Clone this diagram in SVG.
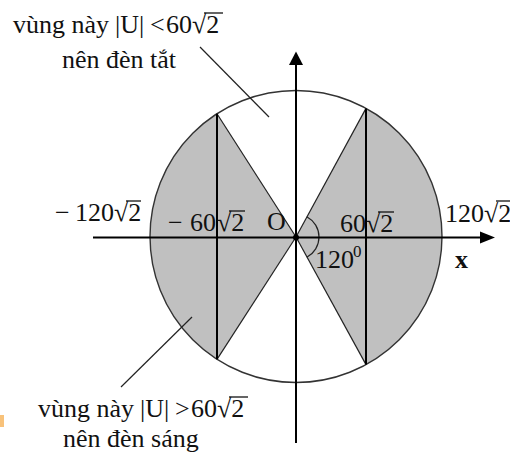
<svg xmlns="http://www.w3.org/2000/svg" width="510" height="454" viewBox="0 0 510 454">
<style>
text{font-family:"Liberation Serif","Times New Roman",serif;font-size:26px;fill:#111}
.ax{stroke:#000;stroke-width:2;fill:none}
.thin{stroke:#222;stroke-width:1.2;fill:none}
.bar{stroke:#111;stroke-width:1.3}
.shade{fill:#c0c0c0;stroke:none}
</style>
<rect width="510" height="454" fill="#fff"/>
<g id="regions">
<path class="shade" d="M296,237 L217,113.7 A146,146 0 0 0 217,359.3 Z"/>
<path class="shade" d="M296,237 L366,108.4 A146,146 0 0 1 366,364.6 Z"/>
</g>
<g id="circle">
<circle cx="296" cy="236.5" r="146" fill="none" stroke="#333" stroke-width="1.4"/>
</g>
<g id="lines">
<line class="thin" x1="296" y1="237" x2="217" y2="113.7"/>
<line class="thin" x1="296" y1="237" x2="217" y2="359.3"/>
<line class="thin" x1="296" y1="237" x2="366" y2="108.4"/>
<line class="thin" x1="296" y1="237" x2="366" y2="364.6"/>
<line class="ax" x1="217" y1="113.7" x2="217" y2="359.3"/>
<line class="ax" x1="366" y1="108.4" x2="366" y2="364.6"/>
<path class="thin" d="M306.8,216.7 A23,23 0 0 1 306.8,257.3"/>
</g>
<g id="axes">
<line class="ax" x1="93" y1="237.5" x2="482" y2="237.5"/>
<polygon points="495,237.5 480,231.5 480,243.5" fill="#000"/>
<line class="ax" x1="296" y1="443" x2="296" y2="63"/>
<polygon points="296,51.5 289,65 303,65" fill="#000"/>
<circle cx="296" cy="237.5" r="3" fill="#000"/>
</g>
<g id="leaders">
<line class="thin" x1="200" y1="47" x2="269" y2="117"/>
<line class="thin" x1="192" y1="317" x2="121" y2="387"/>
</g>
<g id="label-top">
<text y="33"><tspan x="13">vùng này</tspan><tspan x="115">|U|</tspan><tspan x="150">&lt;</tspan><tspan x="166">60</tspan><tspan x="192">√2</tspan></text>
<line class="bar" x1="204" y1="13" x2="223" y2="13"/>
<text x="62" y="68">nên đèn tắt</text>
</g>
<g id="label-bottom">
<text y="417"><tspan x="38">vùng này</tspan><tspan x="140">|U|</tspan><tspan x="175">&gt;</tspan><tspan x="191">60</tspan><tspan x="217">√2</tspan></text>
<line class="bar" x1="229" y1="397" x2="248" y2="397"/>
<text x="63" y="447">nên đèn sáng</text>
</g>
<g id="label-axis">
<text y="221"><tspan x="55">−</tspan><tspan x="75">120</tspan><tspan x="114">√2</tspan></text>
<line class="bar" x1="126" y1="201" x2="141" y2="201"/>
<text y="231"><tspan x="168">−</tspan><tspan x="190">60</tspan><tspan x="217">√2</tspan></text>
<line class="bar" x1="229" y1="211" x2="245" y2="211"/>
<text x="267" y="230">O</text>
<text y="232"><tspan x="340">60</tspan><tspan x="366">√2</tspan></text>
<line class="bar" x1="378" y1="212" x2="394" y2="212"/>
<text y="222"><tspan x="445">120</tspan><tspan x="484">√2</tspan></text>
<line class="bar" x1="496" y1="201" x2="510" y2="201"/>
<text y="268"><tspan x="315">120</tspan><tspan x="353" y="257" font-size="17">0</tspan></text>
<text x="455" y="268" font-weight="bold">x</text>
</g>
<rect x="0" y="415" width="4" height="12" fill="#f8c27a"/>
</svg>
